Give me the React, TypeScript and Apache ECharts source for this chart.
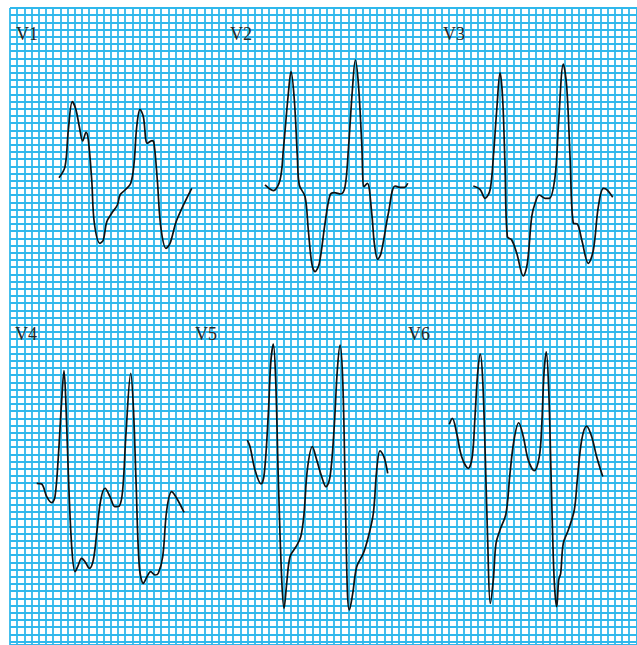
import React, { useEffect, useRef } from "react";
import * as echarts from "echarts";

// ECG paper: 1 small square = 1 mm (25 mm/s, 10 mm/mV)
const PAPER_WIDTH_MM = 87.08;
const PAPER_HEIGHT_MM = 88.47;

const LEAD_NAMES = ["V1", "V2", "V3", "V4", "V5", "V6"];

// each lead: [time in mm from lead start, amplitude in mm above start level]
const V1: [number, number][] = [
  [0, 0], [0.83, 1.53], [1.29, 6.63], [1.85, 10.56], [2.36, 9.4], [2.82, 7.08],
  [3.29, 5.1], [3.75, 6.31], [4.07, 5.24], [4.54, -0.32], [4.9, -6.29], [5.69, -9.11],
  [6.15, -8.65], [6.63, -6.11], [7.32, -4.94], [8.1, -3.79], [8.47, -2.4], [9.17, -1.71],
  [9.96, -0.78], [10.42, 2.0], [10.79, 7.08], [11.25, 9.5], [11.71, 8.47], [12.26, 4.78],
  [12.92, 5.14], [13.19, 4.78], [13.65, -0.32], [14.13, -6.81], [14.86, -9.81],
  [15.42, -9.11], [16.35, -5.88], [18.43, -1.47],
];
const V2: [number, number][] = [
  [0, 0], [1.15, -0.79], [2.08, 0.69], [2.54, 4.86], [3.24, 12.74], [3.61, 15.74],
  [4.07, 11.81], [4.49, 3.93], [4.76, 0], [5.56, -1.63], [6.01, -6.25], [6.49, -10.88],
  [6.94, -12.04], [7.54, -10.88], [8.33, -5.32], [9.03, -1.39], [9.58, -1.07],
  [10.51, -1.25], [11.11, -0.24], [11.57, 4.86], [12.13, 13.19], [12.54, 17.36],
  [12.96, 14.13], [13.43, 5.79], [13.75, -0.24], [14.21, 0.24], [14.82, -3.93],
  [15.18, -8.1], [15.65, -10.32], [16.11, -9.49], [17.13, -3.93], [18.06, -0.14],
  [18.75, -0.32], [19.35, -0.32], [19.82, 0.24],
];
const V3: [number, number][] = [
  [0, 0], [0.93, -0.46], [1.63, -1.71], [2.32, -0.56], [2.78, 4.07], [3.25, 10.56],
  [3.71, 15.74], [4.08, 11.94], [4.4, 2.68], [4.72, -7.04], [5.33, -7.5], [6.03, -9.35],
  [6.94, -12.5], [7.5, -10.74], [8.11, -4.26], [8.57, -2.4], [9.17, -1.25], [9.96, -1.71],
  [10.56, -1.71], [11.35, 1.29], [11.81, 8.24], [12.5, 16.94], [12.97, 13.79],
  [13.43, 4.07], [13.89, -5.18], [14.44, -5.28], [15.06, -7.5], [15.97, -10.74],
  [16.67, -8.89], [17.36, -2.88], [18.06, -0.32], [18.61, -0.56], [19.36, -1.57],
];
const V4: [number, number][] = [
  [0, 0], [0.69, -0.1], [1.39, -1.86], [2.08, -2.69], [2.54, -1.86], [3.0, 3.69],
  [3.47, 11.57], [3.79, 15.64], [4.07, 10.64], [4.39, 1.39], [4.86, -8.81], [5.32, -12.28],
  [5.69, -11.58], [6.25, -10.42], [6.71, -10.89], [7.31, -11.81], [7.86, -10.65],
  [8.33, -6.94], [8.89, -2.32], [9.49, -0.69], [10.18, -1.86], [10.88, -3.25],
  [11.47, -3.15], [11.94, -0.93], [12.4, 6.94], [13.06, 15.28], [13.42, 10.64],
  [13.79, 0.46], [14.25, -11.58], [14.81, -13.89], [15.28, -13.06], [15.83, -12.28],
  [16.43, -12.74], [16.89, -12.5], [17.5, -10.19], [18.06, -3.71], [18.75, -1.17],
  [19.44, -2.08], [20.46, -4.03],
];
const V5: [number, number][] = [
  [0, 0], [0.38, -0.93], [1.07, -4.17], [1.9, -6.11], [2.36, -4.63], [2.92, 3.71],
  [3.25, 10.65], [3.61, 13.33], [3.94, 8.33], [4.31, -5.56], [4.78, -19.44], [5.1, -23.38],
  [5.47, -19.9], [5.93, -16.21], [6.76, -14.82], [7.42, -13.43], [7.88, -10.18],
  [8.33, -4.17], [9.03, -0.93], [9.64, -2.78], [10.33, -5.1], [10.93, -6.49],
  [11.49, -5.1], [12.04, 1.39], [12.5, 9.72], [12.88, 13.19], [13.25, 8.33],
  [13.57, -5.56], [13.89, -20.83], [14.17, -23.61], [14.64, -21.29], [15.19, -17.6],
  [16.11, -15.74], [16.81, -13.43], [17.5, -10.18], [17.97, -4.17], [18.43, -1.49],
  [18.97, -2.32], [19.5, -4.63],
];
const V6: [number, number][] = [
  [0, 0], [0.42, 0.83], [1.03, -1.25], [1.72, -4.5], [2.64, -6.11], [3.19, -4.5],
  [3.57, 1.06], [3.94, 7.08], [4.31, 9.76], [4.64, 6.15], [5.0, -4.5], [5.33, -16.07],
  [5.69, -24.86], [6.11, -21.63], [6.49, -16.53], [7.04, -14.68], [7.88, -12.36],
  [8.43, -6.81], [8.99, -2.18], [9.64, 0.22], [10.28, -1.72], [10.97, -4.96],
  [11.81, -6.44], [12.5, -4.5], [12.83, -0.33], [13.15, 7.08], [13.47, 10.08],
  [13.81, 4.76], [14.13, -6.81], [14.44, -18.39], [14.68, -23.47], [14.92, -25.33],
  [15.19, -21.63], [15.47, -20.69], [15.83, -16.53], [16.53, -14.68], [17.36, -11.9],
  [17.78, -7.72], [18.39, -2.17], [19.08, -0.24], [19.78, -1.72], [20.47, -4.5],
  [21.31, -7.24],
];
const LEADS = [V1, V2, V3, V4, V5, V6];

// layout: where each lead starts on the paper (mm from top-left of paper)
const LEAD_ORIGINS: [number, number][] = [
  [6.81, 23.57], [35.42, 24.58], [64.35, 24.72],
  [3.71, 66.01], [32.96, 60.0], [61.01, 57.82],
];
// label positions in pixels
const LABEL_POS: [number, number][] = [
  [16, 25], [230, 25], [443, 25],
  [15, 325], [195, 325], [408, 325],
];

export default function App() {
  const ref = useRef<HTMLDivElement>(null);
  useEffect(() => {
    if (!ref.current) return;
    const chart = echarts.init(ref.current, null, { renderer: "svg" });
    const gridLine = { show: true, lineStyle: { color: "#30b8ec", width: 1.8 } };
    chart.setOption({
      animation: false,
      backgroundColor: "#ffffff",
      grid: { left: 10, top: 8, right: 0, bottom: 0, containLabel: false },
      xAxis: {
        type: "value", min: 0, max: PAPER_WIDTH_MM, interval: 1,
        axisLine: { show: false }, axisTick: { show: false }, axisLabel: { show: false },
        splitLine: gridLine,
      },
      yAxis: {
        type: "value", inverse: true, min: 0, max: PAPER_HEIGHT_MM, interval: 1,
        axisLine: { show: false }, axisTick: { show: false }, axisLabel: { show: false },
        splitLine: gridLine,
      },
      series: LEADS.map((lead, i) => ({
        name: LEAD_NAMES[i],
        type: "line",
        smooth: 0.35,
        showSymbol: false,
        symbol: "none",
        silent: true,
        lineStyle: { color: "#111111", width: 1.7 },
        data: lead.map(([t, v]) => [LEAD_ORIGINS[i][0] + t, LEAD_ORIGINS[i][1] - v]),
      })),
      graphic: LEAD_NAMES.map((name, i) => ({
        type: "text",
        left: LABEL_POS[i][0],
        top: LABEL_POS[i][1],
        z: 100,
        style: {
          text: name,
          fill: "#262626",
          font: "18px 'Liberation Serif', 'DejaVu Serif', serif",
        },
      })),
    });
    return () => chart.dispose();
  }, []);
  return (
    <div
      ref={ref}
      style={{ position: "fixed", left: 0, top: 0, width: 637, height: 645, background: "#fff" }}
    />
  );
}
